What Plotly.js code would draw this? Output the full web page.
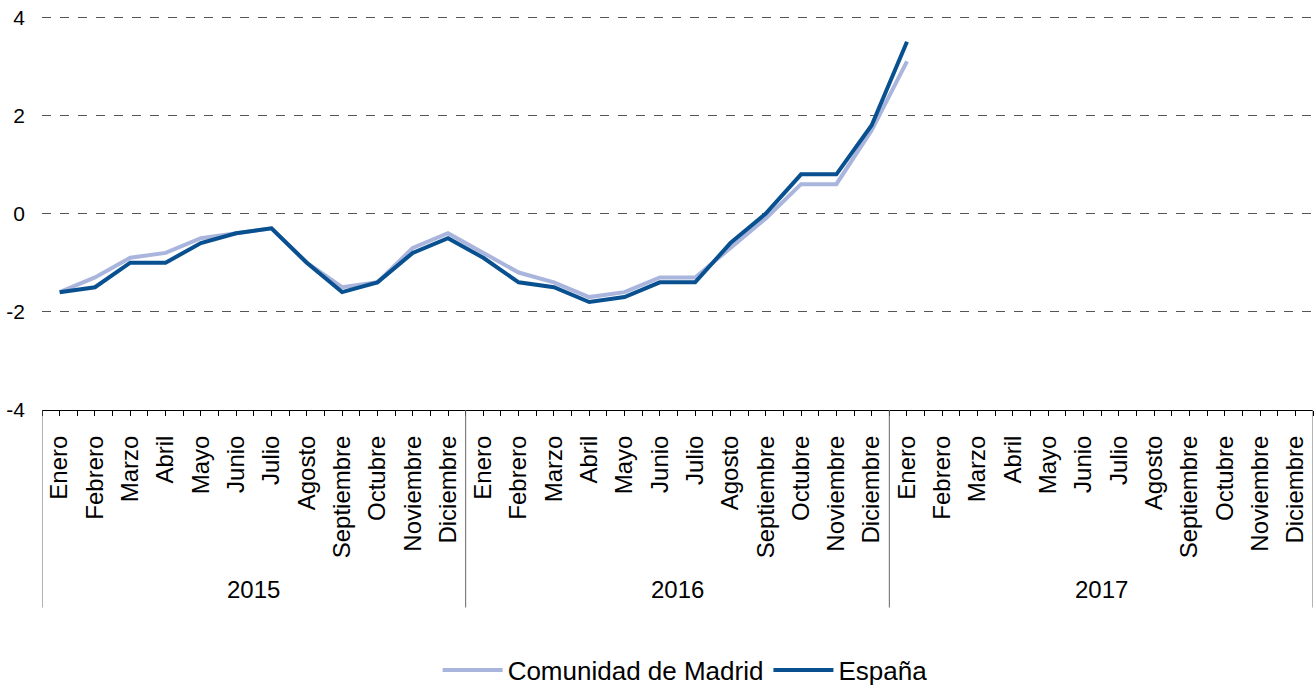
<!DOCTYPE html>
<html>
<head>
<meta charset="utf-8">
<script src="https://cdn.plot.ly/plotly-3.0.1.min.js"></script>
<style>html,body{margin:0;padding:0;background:#fff;}#chart{width:1316px;height:688px;}</style>
</head>
<body>
<div id="chart"></div>
<script>
const months = ['Enero','Febrero','Marzo','Abril','Mayo','Junio','Julio','Agosto','Septiembre','Octubre','Noviembre','Diciembre'];
const years = ['2015','2016','2017'];
const yTicks = [-4, -2, 0, 2, 4];
const yTickText = ['-4', '-2', '0', '2', '4'];
const madrid = [-1.6,-1.3,-0.9,-0.8,-0.5,-0.4,-0.3,-1.0,-1.5,-1.4,-0.7,-0.4,
                -0.8,-1.2,-1.4,-1.7,-1.6,-1.3,-1.3,-0.7,-0.1,0.6,0.6,1.7,
                3.1,null,null,null,null,null,null,null,null,null,null,null];
const espana = [-1.6,-1.5,-1.0,-1.0,-0.6,-0.4,-0.3,-1.0,-1.6,-1.4,-0.8,-0.5,
                -0.9,-1.4,-1.5,-1.8,-1.7,-1.4,-1.4,-0.6,0.0,0.8,0.8,1.8,
                3.5,null,null,null,null,null,null,null,null,null,null,null];

const tickText = [];
years.forEach(() => months.forEach(m => tickText.push(m)));
const xs = tickText.map((_, i) => i);
const n = tickText.length;
const per = months.length;

const FONT = 'Liberation Sans, Arial, sans-serif';

const traces = [
  {x: xs, y: madrid, name: 'Comunidad de Madrid', type: 'scatter', mode: 'lines',
   line: {color: '#a9b5dc', width: 4}, connectgaps: false},
  {x: xs, y: espana, name: 'España', type: 'scatter', mode: 'lines',
   line: {color: '#08508f', width: 4}, connectgaps: false}
];

const shapes = [];
for (let k = 0; k <= years.length; k++) {
  shapes.push({type: 'line', xref: 'x', yref: 'paper', x0: k*per - 0.5, x1: k*per - 0.5,
    y0: 0, y1: -0.5, line: {color: '#666', width: 1}});
}
const annotations = years.map((yr, k) => ({
  text: yr, xref: 'x', yref: 'paper', x: k*per + (per-1)/2, y: -0.455,
  showarrow: false, yanchor: 'middle', xanchor: 'center',
  font: {family: FONT, size: 24, color: '#000'}
}));

const layout = {
  width: 1316, height: 688,
  margin: {l: 42, r: 3, t: 15, b: 278},
  paper_bgcolor: '#fff', plot_bgcolor: '#fff',
  showlegend: true,
  legend: {orientation: 'h', xref: 'paper', yref: 'container', x: 0.506, xanchor: 'center',
    y: 0.026, yanchor: 'middle',
    font: {family: FONT, size: 26, color: '#000'}, itemwidth: 60, tracegroupgap: 0},
  xaxis: {
    type: 'linear', range: [-0.5, n - 0.5], tickmode: 'array', tickvals: xs, ticktext: tickText,
    tickangle: -90, ticks: 'outside', ticklen: 5, tickcolor: '#000', tickwidth: 1,
    minor: {dtick: 1, tick0: 0.5, ticks: 'outside', ticklen: 5, tickcolor: '#000', showgrid: false},
    showline: true, linecolor: '#000', linewidth: 1, showgrid: false, zeroline: false,
    ticklabelstandoff: 10,
    tickfont: {family: FONT, size: 24, color: '#000'}
  },
  yaxis: {
    range: [-4, 4.045], tickmode: 'array', tickvals: yTicks, ticktext: yTickText,
    showline: false, zeroline: false,
    showgrid: true, gridcolor: '#555', griddash: 'dash', gridwidth: 1,
    ticks: '', ticklabelstandoff: 16,
    tickfont: {family: FONT, size: 21, color: '#000'}
  },
  shapes: shapes,
  annotations: annotations
};

Plotly.newPlot('chart', traces, layout, {displayModeBar: false, staticPlot: true});
</script>
</body>
</html>
